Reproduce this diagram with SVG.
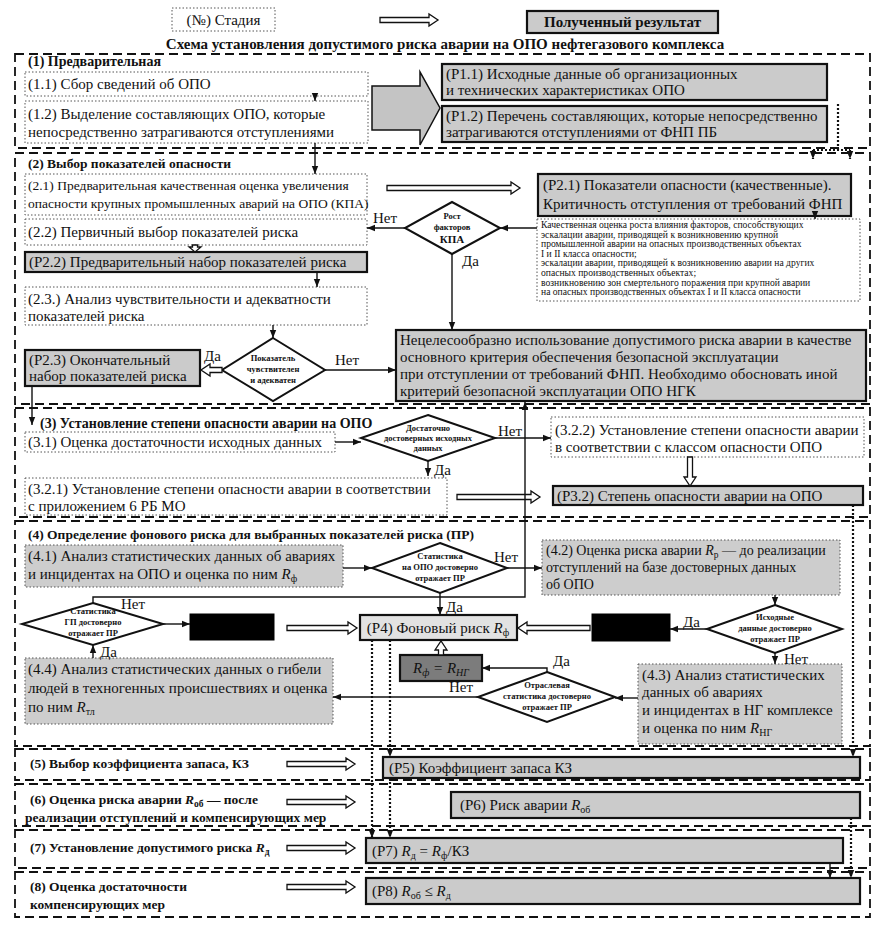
<svg xmlns="http://www.w3.org/2000/svg" width="880" height="927" viewBox="0 0 880 927" font-family="'Liberation Serif', 'DejaVu Serif', serif">
<style>
text{font-family:'Liberation Serif','DejaVu Serif',serif;fill:#111}
.t{font-size:15px}.m{font-size:14px}.sm{font-size:13.5px}.b{font-weight:bold}
.s{font-size:9.6px}.d{font-size:8.5px;font-weight:bold}
.i{font-style:italic}
.sec{fill:none;stroke:#111;stroke-width:1.8;stroke-dasharray:9 5}
.stg{fill:#fff;stroke:#555;stroke-width:1;stroke-dasharray:1.5 2}
.stgg{fill:#cdcdcd;stroke:#555;stroke-width:1;stroke-dasharray:1.5 2}
.res{fill:#cbcbcb;stroke:#111;stroke-width:2.2}
.res4{fill:#e2e2e2;stroke:#111;stroke-width:2.2}
.dark{fill:#7c7c7c;stroke:#111;stroke-width:2.2}
.blk{fill:#000;stroke:#000}
.dia{fill:#fff;stroke:#111;stroke-width:2}
.ln{fill:none;stroke:#111;stroke-width:1.4;marker-end:url(#ah)}
.dl{fill:none;stroke:#111;stroke-width:2.2;stroke-dasharray:2 2}
.dla{fill:none;stroke:#111;stroke-width:2.2;stroke-dasharray:2 2;marker-end:url(#ah)}
.ha{fill:#fff;stroke:#111;stroke-width:1.3}
.big{fill:#c4c4c4;stroke:#111;stroke-width:1.5}
</style>
<defs>
<marker id="ah" viewBox="0 0 10 10" refX="10" refY="5" markerWidth="8" markerHeight="8" markerUnits="userSpaceOnUse" orient="auto"><path d="M0,1 L10,5 L0,9 Z" fill="#111"/></marker>
</defs>

<g id="legend">
<rect class="stg" x="172" y="8" width="103" height="23"/>
<text class="t" x="223.5" y="25" text-anchor="middle">(№) Стадия</text>
<path class="ha" d="M380 17.5 H429 V14 L438 20 L429 26 V22.5 H380 Z"/>
<rect class="res" x="527" y="11" width="191" height="22"/>
<text class="t b" x="622.5" y="27" text-anchor="middle">Полученный результат</text>
<text class="t b" x="445" y="49" text-anchor="middle">Схема установления допустимого риска аварии на ОПО нефтегазового комплекса</text>
</g>

<g id="sections">
<rect class="sec" x="15" y="54" width="855" height="94"/>
<rect class="sec" x="15" y="153" width="855" height="251"/>
<rect class="sec" x="15" y="408" width="855" height="109"/>
<rect class="sec" x="15" y="521" width="855" height="225"/>
<rect class="sec" x="15" y="749" width="855" height="31"/>
<rect class="sec" x="15" y="784" width="855" height="42"/>
<rect class="sec" x="15" y="830" width="855" height="38"/>
<rect class="sec" x="15" y="872" width="855" height="45"/>
</g>

<g id="s1">
<text class="m b" x="28" y="66">(1) Предварительная</text>
<g id="n1_1"><rect class="stg" x="25" y="72" width="343" height="24"/>
<text class="t" x="28" y="89">(1.1) Сбор сведений об ОПО</text></g>
<g id="n1_2"><rect class="stg" x="25" y="101" width="343" height="42"/>
<text class="t" x="28" y="119">(1.2) Выделение составляющих ОПО, которые</text>
<text class="t" x="28" y="137">непосредственно затрагиваются отступлениями</text></g>
<path class="big" d="M372 86 H420 V72 L440 108 L420 145 V130 H372 Z"/>
<g id="p1_1"><rect class="res" x="442" y="64" width="385" height="36"/>
<text class="t" x="446" y="79">(P1.1) Исходные данные об организационных</text>
<text class="t" x="446" y="95">и технических характеристиках ОПО</text></g>
<g id="p1_2"><rect class="res" x="442" y="106" width="385" height="36"/>
<text class="t" x="446" y="121" fill="#333">(P1.2) Перечень составляющих, которые непосредственно</text>
<text class="t" x="446" y="137" fill="#333">затрагиваются отступлениями от ФНП ПБ</text></g>
</g>

<g id="s2">
<text class="sm b" x="28" y="168">(2) Выбор показателей опасности</text>
<g id="n2_1"><rect class="stg" x="25" y="174" width="342" height="41"/>
<text class="sm" x="28" y="190">(2.1) Предварительная качественная оценка увеличения</text>
<text class="sm" x="28" y="208">опасности крупных промышленных аварий на ОПО (КПА)</text></g>
<g id="n2_2"><rect class="stg" x="25" y="219" width="342" height="26"/>
<text class="t" x="28" y="237">(2.2) Первичный выбор показателей риска</text></g>
<g id="p2_2"><rect class="res" x="25" y="252" width="342" height="20"/>
<text class="t" x="29" y="267">(P2.2) Предварительный набор показателей риска</text></g>
<g id="n2_3"><rect class="stg" x="25" y="287" width="342" height="38"/>
<text class="t" x="28" y="304">(2.3.) Анализ чувствительности и адекватности</text>
<text class="t" x="28" y="321">показателей риска</text></g>
<g id="p2_3"><rect class="res" x="25" y="350" width="175" height="36"/>
<text class="t" x="29" y="365">(P2.3) Окончательный</text>
<text class="t" x="29" y="381">набор показателей риска</text></g>
<g id="d_sens"><polygon class="dia" points="273,338 325,370 273,401 222,370"/>
<text class="d" x="273" y="361" text-anchor="middle">Показатель</text>
<text class="d" x="273" y="372" text-anchor="middle">чувствителен</text>
<text class="d" x="273" y="383" text-anchor="middle">и адекватен</text></g>
<g id="p2_1"><rect class="res" x="538" y="174" width="313" height="42"/>
<text class="t" x="543" y="190">(P2.1) Показатели опасности (качественные).</text>
<text class="t" x="543" y="209">Критичность отступления от требований ФНП</text></g>
<g id="n_qual"><rect class="stg" x="537" y="219" width="323" height="82"/>
<text class="s" x="541" y="228">Качественная оценка роста влияния факторов, способствующих</text>
<text class="s" x="541" y="237.6">эскалации аварии, приводящей к  возникновению крупной</text>
<text class="s" x="541" y="247.2">промышленной аварии на опасных производственных объектах</text>
<text class="s" x="541" y="256.8">I и II класса опасности;</text>
<text class="s" x="541" y="266.4">эскалации аварии, приводящей к возникновению аварии на других</text>
<text class="s" x="541" y="276">опасных производственных объектах;</text>
<text class="s" x="541" y="285.6">возникновению зон смертельного поражения при крупной аварии</text>
<text class="s" x="541" y="295.2">на опасных производственных объектах I и II класса опасности</text></g>
<g id="d_kpa"><polygon class="dia" points="452,202 500,228 452,254 405,228"/>
<text class="d" x="452" y="219" text-anchor="middle">Рост</text>
<text class="d" x="452" y="230" text-anchor="middle">факторов</text>
<text class="b" x="452" y="243" text-anchor="middle" font-size="11">КПА</text></g>
<g id="n_inapp"><rect class="res" x="396" y="330" width="470" height="71"/>
<text class="t" x="400" y="345">Нецелесообразно использование допустимого риска аварии в качестве</text>
<text class="t" x="400" y="362">основного критерия обеспечения безопасной эксплуатации</text>
<text class="t" x="400" y="379">при отступлении от требований ФНП. Необходимо обосновать иной</text>
<text class="t" x="400" y="396">критерий безопасной эксплуатации ОПО НГК</text></g>
</g>

<g id="s3">
<text class="m b" x="40" y="428">(3) Установление степени опасности аварии на ОПО</text>
<g id="n3_1"><rect class="stg" x="25" y="432" width="310" height="20"/>
<text class="t" x="28" y="447">(3.1) Оценка достаточности исходных данных</text></g>
<g id="d_data"><polygon class="dia" points="428,415 495,438 428,461 361,438"/>
<text class="d" x="428" y="431" text-anchor="middle" font-size="8">Достаточно</text>
<text class="d" x="428" y="441" text-anchor="middle" font-size="8">достоверных исходных</text>
<text class="d" x="428" y="451" text-anchor="middle" font-size="8">данных</text></g>
<g id="n3_2_2"><rect class="stg" x="551" y="417" width="313" height="40"/>
<text class="t" x="555" y="435">(3.2.2) Установление степени опасности аварии</text>
<text class="t" x="555" y="452">в соответствии с классом опасности ОПО</text></g>
<g id="n3_2_1"><rect class="stg" x="25" y="478" width="422" height="37"/>
<text class="t" x="28" y="494">(3.2.1) Установление степени опасности аварии в соответствии</text>
<text class="t" x="28" y="511">с приложением 6 РБ МО</text></g>
<g id="p3_2"><rect class="res" x="553" y="486" width="310" height="19"/>
<text class="t" x="557" y="501">(P3.2) Степень опасности аварии на ОПО</text></g>
</g>

<g id="s4">
<text class="sm b" x="28" y="539">(4) Определение фонового риска для выбранных показателей риска (ПР)</text>
<g id="n4_1"><rect class="stgg" x="25" y="545" width="318" height="42"/>
<text class="t" x="28" y="561">(4.1) Анализ статистических данных об авариях</text>
<text class="t" x="28" y="579">и инцидентах на ОПО и оценка по ним <tspan class="i">R</tspan><tspan font-size="10" dy="3">ф</tspan></text></g>
<g id="d_stat_opo"><polygon class="dia" points="440,543 507,568 440,593 372,568"/>
<text class="d" x="440" y="559" text-anchor="middle">Статистика</text>
<text class="d" x="440" y="570" text-anchor="middle">на ОПО достоверно</text>
<text class="d" x="440" y="581" text-anchor="middle">отражает ПР</text></g>
<g id="n4_2"><rect class="stgg" x="542" y="540" width="298" height="55"/>
<text class="m" x="546" y="555">(4.2) Оценка риска аварии <tspan class="i">R</tspan><tspan font-size="9.5" dy="3">р</tspan><tspan dy="-3"> — до реализации</tspan></text>
<text class="m" x="546" y="572">отступлений на базе достоверных данных</text>
<text class="m" x="546" y="589">об ОПО</text></g>
<g id="d_stat_gp"><polygon class="dia" points="93,603 163,624 93,645 22,624"/>
<text class="d" x="93" y="614" text-anchor="middle">Статистика</text>
<text class="d" x="93" y="625" text-anchor="middle">ГП достоверно</text>
<text class="d" x="93" y="636" text-anchor="middle">отражает ПР</text></g>
<g id="blk1"><rect class="blk" x="190" y="614" width="84" height="26"/></g>
<g id="p4"><rect class="res4" x="360" y="615" width="157" height="25"/>
<text class="t" x="438" y="633" text-anchor="middle">(P4) Фоновый риск <tspan class="i">R</tspan><tspan font-size="10" dy="3">ф</tspan></text></g>
<g id="blk2"><rect class="blk" x="592" y="614" width="78" height="27"/></g>
<g id="d_src"><polygon class="dia" points="775,605 842,629 775,653 707,629"/>
<text class="d" x="775" y="620" text-anchor="middle">Исходные</text>
<text class="d" x="775" y="631" text-anchor="middle">данные достоверно</text>
<text class="d" x="775" y="642" text-anchor="middle">отражает ПР</text></g>
<g id="p_rng"><rect class="dark" x="400" y="655" width="82" height="26"/>
<text class="t i" x="441" y="673" text-anchor="middle">R<tspan font-size="10" dy="3">ф</tspan><tspan dy="-3"> = R</tspan><tspan font-size="10" dy="3">НГ</tspan></text></g>
<g id="d_branch"><polygon class="dia" points="547,672 615,697 547,722 478,697"/>
<text class="d" x="547" y="688" text-anchor="middle">Отраслевая</text>
<text class="d" x="547" y="699" text-anchor="middle">статистика достоверно</text>
<text class="d" x="547" y="710" text-anchor="middle">отражает ПР</text></g>
<g id="n4_3"><rect class="stgg" x="638" y="664" width="204" height="80"/>
<text class="t" x="642" y="680">(4.3) Анализ статистических</text>
<text class="t" x="642" y="697">данных об авариях</text>
<text class="t" x="642" y="715">и инцидентах в НГ комплексе</text>
<text class="t" x="642" y="733">и оценка по ним <tspan class="i">R</tspan><tspan font-size="10" dy="3">НГ</tspan></text></g>
<g id="n4_4"><rect class="stgg" x="25" y="658" width="308" height="66"/>
<text class="t" x="28" y="674">(4.4) Анализ статистических данных о гибели</text>
<text class="t" x="28" y="693">людей в техногенных происшествиях и оценка</text>
<text class="t" x="28" y="712">по ним <tspan class="i">R</tspan><tspan font-size="10" dy="3">тл</tspan></text></g>
</g>

<g id="s5_8">
<text class="sm b" x="30" y="768">(5) Выбор коэффициента запаса, КЗ</text>
<g id="p5"><rect class="res" x="383" y="757" width="477" height="21"/>
<text class="t" x="389" y="773">(P5) Коэффициент запаса КЗ</text></g>
<text class="sm b" x="30" y="804">(6) Оценка риска аварии <tspan class="i">R</tspan><tspan font-size="9.5" dy="3">об</tspan><tspan dy="-3"> — после</tspan></text>
<text class="sm b" x="25" y="822">реализации  отступлений и компенсирующих мер</text>
<g id="p6"><rect class="res" x="451" y="792" width="409" height="26"/>
<text class="t" x="460" y="810">(P6) Риск аварии <tspan class="i">R</tspan><tspan font-size="10" dy="3">об</tspan></text></g>
<text class="sm b" x="30" y="852">(7) Установление допустимого риска <tspan class="i">R</tspan><tspan font-size="9.5" dy="3">д</tspan></text>
<g id="p7"><rect class="res" x="366" y="838" width="477" height="25"/>
<text class="t" x="372" y="856">(P7) <tspan class="i">R</tspan><tspan font-size="10" dy="3">д</tspan><tspan dy="-3"> = </tspan><tspan class="i">R</tspan><tspan font-size="10" dy="3">ф</tspan><tspan dy="-3">/КЗ</tspan></text></g>
<text class="sm b" x="30" y="891">(8) Оценка достаточности</text>
<text class="sm b" x="30" y="909">компенсирующих мер</text>
<g id="p8"><rect class="res" x="366" y="878" width="494" height="26"/>
<text class="t" x="372" y="896">(P8) <tspan class="i">R</tspan><tspan font-size="10" dy="3">об</tspan><tspan dy="-3"> ≤ </tspan><tspan class="i">R</tspan><tspan font-size="10" dy="3">д</tspan></text></g>
</g>

<g id="connectors">
<path class="ln" d="M315 96 V101"/>
<path class="ln" d="M315 143 V174"/>
<path class="dl" d="M838 104 V150 M813 150 H850"/>
<path class="dla" d="M813 150 V159"/>
<path class="dla" d="M850 150 V159"/>
<path class="ha" d="M387 185.5 H511 V182 L520 188 L511 194 V190.5 H387 Z"/>
<path class="ln" d="M815 216 V219"/>
<path class="ln" d="M537 228 H500"/>
<path class="ln" d="M405 228 H367"/>
<text class="t" x="373" y="223">Нет</text>
<path class="ha" d="M192.5 245 V247 H189 L195 252 L201 247 H197.5 V245 Z"/>
<path class="ln" d="M452 254 V330"/>
<text class="t" x="462" y="266">Да</text>
<path class="ln" d="M317 272 V287"/>
<path class="ln" d="M273 325 V338"/>
<path class="ha" d="M222 367.5 H210 V364 L201 370 L210 376 V372.5 H222 Z"/>
<text class="t" x="204" y="361">Да</text>
<path class="ln" d="M325 370 H396"/>
<text class="t" x="335" y="365">Нет</text>
<path class="ln" d="M32 386 V425"/>
<path class="ln" d="M335 442 H361"/>
<path class="ln" d="M495 438 H551"/>
<text class="t" x="498" y="436">Нет</text>
<path class="ln" d="M428 461 V476"/>
<text class="t" x="434" y="475">Да</text>
<path class="ha" d="M457 494.5 H531 V491 L540 497 L531 503 V499.5 H457 Z"/>
<path class="ha" d="M687.5 457 V477 H684 L690 486 L696 477 H692.5 V457 Z"/>
<path class="ln" d="M93 603 V597 H525 V402"/>
<text class="t" x="121" y="609">Нет</text>
<path class="ln" d="M343 568 H372"/>
<path class="ln" d="M507 568 H542"/>
<text class="t" x="494" y="562">Нет</text>
<path class="ln" d="M440 593 V615"/>
<text class="t" x="446" y="612">Да</text>
<path class="ln" d="M163 624 H190"/>
<path class="ha" d="M287 625.5 H348 V622 L357 628 L348 634 V630.5 H287 Z"/>
<path class="ln" d="M93 658 V645"/>
<text class="t" x="100" y="657">Да</text>
<path class="ln" d="M775 595 V605"/>
<path class="ln" d="M707 629 H670"/>
<text class="t" x="683" y="627">Да</text>
<path class="ha" d="M590 625.5 H527 V622 L518 628 L527 634 V630.5 H590 Z"/>
<path class="ln" d="M775 653 V664"/>
<text class="t" x="784" y="664">Нет</text>
<path class="ln" d="M638 698 H615"/>
<path class="ln" d="M547 672 V668 H482"/>
<text class="t" x="553" y="666">Да</text>
<path class="ha" d="M438.5 655 V650 H435 L441 641 L447 650 H443.5 V655 Z"/>
<path class="ln" d="M478 697 H333"/>
<text class="t" x="449" y="692">Нет</text>
<path class="dla" d="M372 640 V838"/>
<path class="dla" d="M390 640 V757"/>
<path class="dla" d="M390 778 V838"/>
<path class="dla" d="M853 505 V757"/>
<path class="dla" d="M851 818 V878"/>
<path class="ln" d="M830 863 V878"/>
<path class="ha" d="M287 761.5 H346 V758 L355 764 L346 770 V766.5 H287 Z"/>
<path class="ha" d="M287 799.5 H346 V796 L355 802 L346 808 V804.5 H287 Z"/>
<path class="ha" d="M287 845.5 H346 V842 L355 848 L346 854 V850.5 H287 Z"/>
<path class="ha" d="M287 884.5 H346 V881 L355 887 L346 893 V889.5 H287 Z"/>
</g>
</svg>
